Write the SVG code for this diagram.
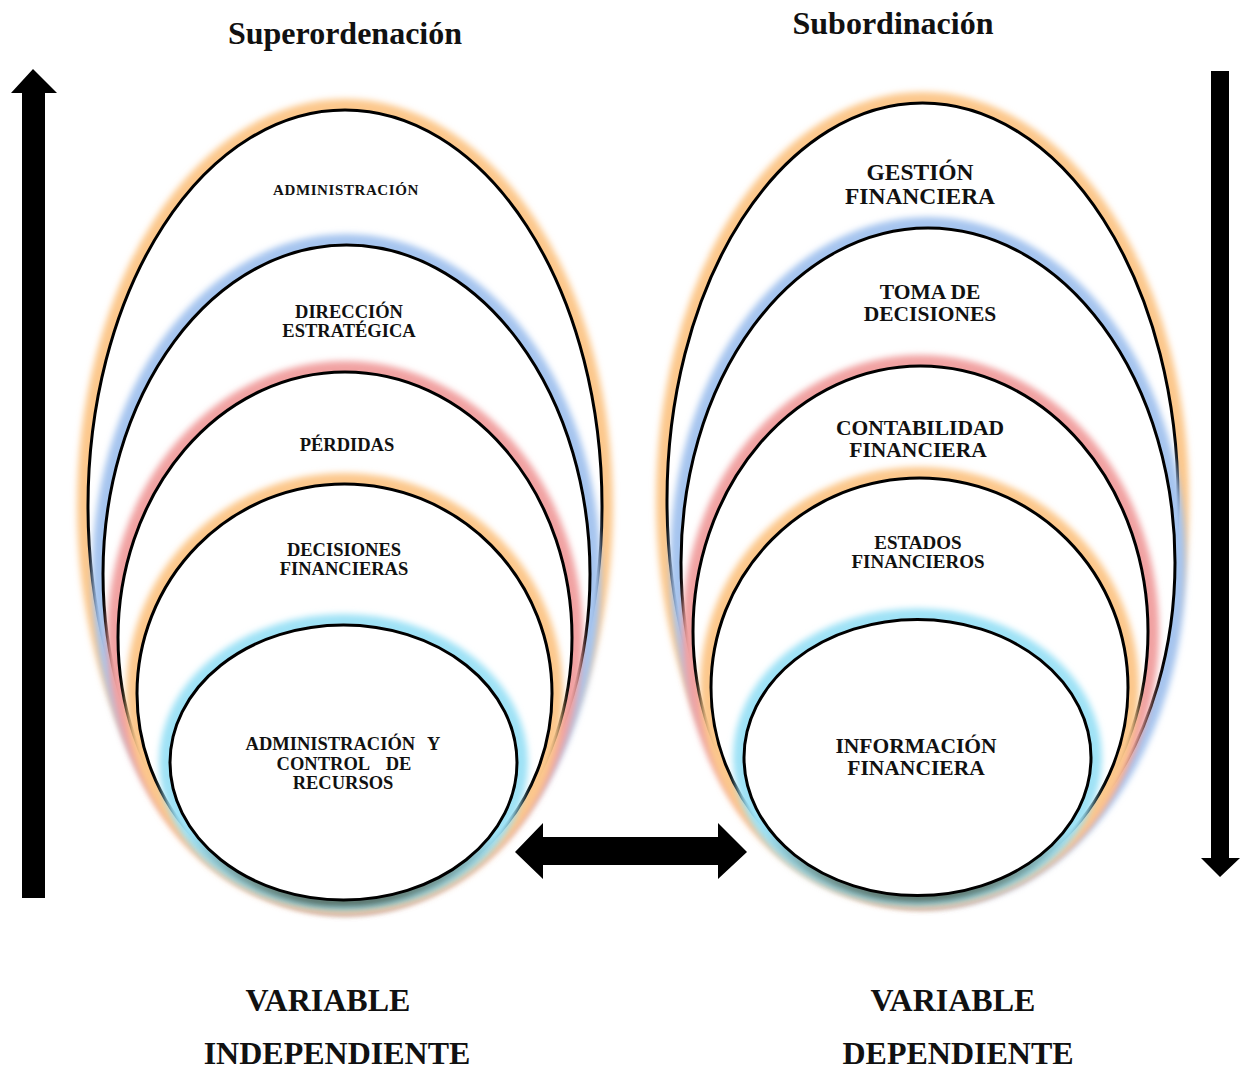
<svg xmlns="http://www.w3.org/2000/svg" width="1245" height="1069" viewBox="0 0 1245 1069">
<defs>
<filter id="glow" x="-20%" y="-20%" width="140%" height="140%">
<feGaussianBlur stdDeviation="3.2"/>
</filter>
<filter id="shadow" x="-20%" y="-20%" width="140%" height="140%">
<feGaussianBlur stdDeviation="3.5"/>
</filter>
<linearGradient id="shgrad" x1="0" y1="0" x2="0" y2="1">
<stop offset="0" stop-color="#e98a4c" stop-opacity="0"/>
<stop offset="0.55" stop-color="#e98a4c" stop-opacity="0"/>
<stop offset="0.8" stop-color="#e98a4c" stop-opacity="0.9"/>
<stop offset="0.95" stop-color="#5a6a58" stop-opacity="0.9"/>
<stop offset="1" stop-color="#4a5a4a" stop-opacity="0.9"/>
</linearGradient>
<linearGradient id="shgrad2" x1="0" y1="0" x2="0" y2="1">
<stop offset="0" stop-color="#5a6a58" stop-opacity="0"/>
<stop offset="0.75" stop-color="#5a6a58" stop-opacity="0"/>
<stop offset="0.92" stop-color="#5a6a58" stop-opacity="0.7"/>
<stop offset="1" stop-color="#4a5a4a" stop-opacity="0.9"/>
</linearGradient>
</defs>
<style>
.t{font-family:"Liberation Serif","Times New Roman",serif;font-weight:bold;fill:#111;text-anchor:middle}
.body{fill:#fff;stroke:#000;stroke-width:3}
.g{fill:none;stroke-width:22;filter:url(#glow)}
.sh{fill:none;stroke:url(#shgrad);stroke-width:12;filter:url(#shadow)}
.sh2{fill:none;stroke:url(#shgrad2);stroke-width:10;filter:url(#shadow)}
.or{stroke:#fcc88c}
.bl{stroke:#a6c5ef}
.rd{stroke:#f1a2a2}
.cy{stroke:#9fe2f6}
</style>
<rect width="1245" height="1069" fill="#fff"/>

<text class="t" x="345" y="44" font-size="32">Superordenación</text>
<text class="t" x="893" y="34" font-size="32">Subordinación</text>

<!-- LEFT -->
<g id="left-administracion">
<ellipse class="sh" cx="345" cy="510" rx="254" ry="396"/>
<ellipse class="g or" cx="345" cy="506" rx="257" ry="396"/>
<ellipse class="body" cx="345" cy="506" rx="257" ry="396"/>
<text class="t" x="346" y="195" font-size="15" letter-spacing="0.6">ADMINISTRACIÓN</text>
</g>
<g id="left-direccion">
<ellipse class="g bl" cx="346.5" cy="574" rx="243.5" ry="329"/>
<ellipse class="body" cx="346.5" cy="574" rx="243.5" ry="329"/>
<text class="t" x="349" y="318" font-size="18.5">DIRECCIÓN</text>
<text class="t" x="349" y="337" font-size="18.5">ESTRATÉGICA</text>
</g>
<g id="left-perdidas">
<ellipse class="g rd" cx="345" cy="637.5" rx="227" ry="265.5"/>
<ellipse class="body" cx="345" cy="637.5" rx="227" ry="265.5"/>
<text class="t" x="347" y="451" font-size="18.5">PÉRDIDAS</text>
</g>
<g id="left-decisiones">
<ellipse class="g or" cx="344.5" cy="693.5" rx="207.5" ry="209.5"/>
<ellipse class="body" cx="344.5" cy="693.5" rx="207.5" ry="209.5"/>
<text class="t" x="344" y="556" font-size="18.5">DECISIONES</text>
<text class="t" x="344" y="575" font-size="18.5">FINANCIERAS</text>
</g>
<g id="left-recursos">
<ellipse class="g cy" cx="343.5" cy="762.5" rx="173.5" ry="137.5"/>
<ellipse class="sh2" cx="343.5" cy="765" rx="172" ry="137"/>
<ellipse class="body" cx="343.5" cy="762.5" rx="173.5" ry="137.5"/>
<text class="t" x="343" y="750" font-size="18.5" word-spacing="8">ADMINISTRACIÓN Y</text>
<text class="t" x="344" y="770" font-size="18.5" word-spacing="12">CONTROL DE</text>
<text class="t" x="343" y="789" font-size="18.5">RECURSOS</text>
</g>

<!-- RIGHT -->
<g id="right-gestion">
<ellipse class="sh" cx="922.5" cy="504" rx="253" ry="396"/>
<ellipse class="g or" cx="922.5" cy="500" rx="255.5" ry="397"/>
<ellipse class="body" cx="922.5" cy="500" rx="255.5" ry="397"/>
<text class="t" x="920" y="180" font-size="23.5">GESTIÓN</text>
<text class="t" x="920" y="204" font-size="23.5">FINANCIERA</text>
</g>
<g id="right-toma">
<ellipse class="g bl" cx="928" cy="562.5" rx="247" ry="334.5"/>
<ellipse class="body" cx="928" cy="562.5" rx="247" ry="334.5"/>
<text class="t" x="930" y="299" font-size="21.5">TOMA DE</text>
<text class="t" x="930" y="321" font-size="21.5">DECISIONES</text>
</g>
<g id="right-contabilidad">
<ellipse class="g rd" cx="920.5" cy="631.5" rx="227.5" ry="265.5"/>
<ellipse class="body" cx="920.5" cy="631.5" rx="227.5" ry="265.5"/>
<text class="t" x="920" y="435" font-size="21.5">CONTABILIDAD</text>
<text class="t" x="918" y="457" font-size="21.5">FINANCIERA</text>
</g>
<g id="right-estados">
<ellipse class="g or" cx="919.5" cy="687.5" rx="208.5" ry="209.5"/>
<ellipse class="body" cx="919.5" cy="687.5" rx="208.5" ry="209.5"/>
<text class="t" x="918" y="549" font-size="19">ESTADOS</text>
<text class="t" x="918" y="568" font-size="19">FINANCIEROS</text>
</g>
<g id="right-informacion">
<ellipse class="g cy" cx="917.5" cy="757.5" rx="173.5" ry="138"/>
<ellipse class="sh2" cx="917.5" cy="760" rx="172" ry="137.5"/>
<ellipse class="body" cx="917.5" cy="757.5" rx="173.5" ry="138"/>
<text class="t" x="916" y="753" font-size="21.5">INFORMACIÓN</text>
<text class="t" x="916" y="775" font-size="21.5">FINANCIERA</text>
</g>

<!-- connectors -->
<g id="connectors" fill="#000">
<polygon points="22,898 45,898 45,93 57,93 33,69 11,93 22,93"/>
<polygon points="1211,71 1229,71 1229,858 1240,858 1220,877 1201,858 1211,858"/>
<polygon points="515,852 543,823 543,837 718,837 718,823 747,852 718,879 718,865 543,865 543,879"/>
</g>

<text class="t" x="328" y="1011" font-size="32">VARIABLE</text>
<text class="t" x="337" y="1064" font-size="32">INDEPENDIENTE</text>
<text class="t" x="953" y="1011" font-size="32">VARIABLE</text>
<text class="t" x="958" y="1064" font-size="32">DEPENDIENTE</text>
</svg>
